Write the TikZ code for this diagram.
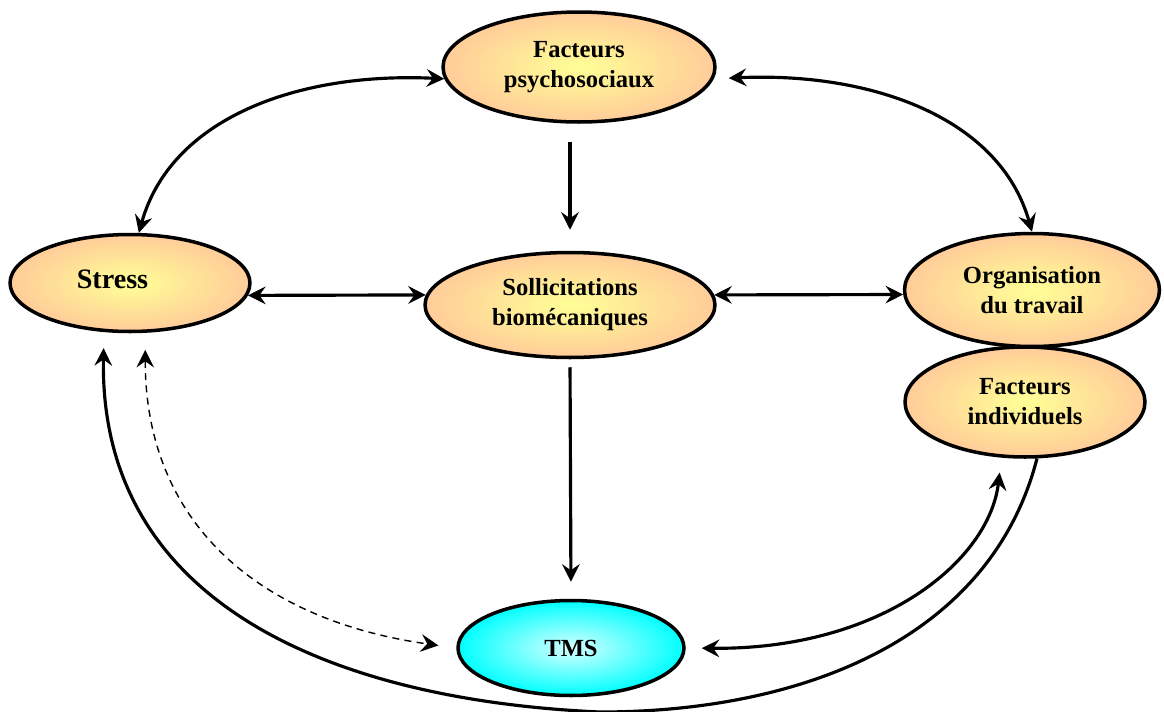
\documentclass[tikz,border=0pt]{standalone}
\usepackage{fontspec}
\setmainfont{Liberation Serif}
\usetikzlibrary{shapes.geometric,arrows.meta}

\definecolor{peach}{RGB}{255,204,153}
\definecolor{lemon}{RGB}{255,255,150}
\definecolor{aqua}{RGB}{0,255,255}
\definecolor{paleaqua}{RGB}{215,255,255}

\begin{document}
\begin{tikzpicture}[
   x=0.02cm,y=-0.02cm,
   every node/.style={font=\bfseries\fontsize{14}{17}\selectfont},
   factor/.style={ellipse,draw=black,line width=2pt,inner sep=0pt,align=center,
     shade,inner color=lemon,outer color=peach},
   outcome/.style={factor,inner color=paleaqua,outer color=aqua},
   link/.style={line width=1.8pt,>={Stealth[length=10pt,width=10pt,inset=3.5pt]}},
   hint/.style={link,line width=.8pt,dashed,dash pattern=on 4pt off 3pt}
 ]
  \useasboundingbox (0,0) rectangle (1164,711);

  % The six factors, placed at their spots on the page.
  \node[factor,minimum width=5.44cm,minimum height=2.2cm] (psy) at (579,67)
    {Facteurs\\psychosociaux};
  \node[factor,minimum width=4.8cm,minimum height=1.94cm] (stress) at (130,283)
    {\raisebox{.14cm}{\fontsize{16}{19}\selectfont Stress}\hspace*{.7cm}};
  \node[factor,minimum width=5.8cm,minimum height=2.1cm] (soll) at (570,305)
    {Sollicitations\\biomécaniques};
  \node[factor,minimum width=5.1cm,minimum height=2.26cm] (org) at (1032,290)
    {Organisation\\du travail};
  \node[factor,minimum width=4.8cm,minimum height=2.2cm] (indiv) at (1025,402)
    {Facteurs\\individuels};
  \node[outcome,minimum width=4.52cm,minimum height=1.9cm] (tms) at (571,648)
    {TMS};
  \coordinate (low) at (600,712);

  % Straight links through the middle.
  \draw[link,->,shorten <=.36cm,shorten >=.42cm] (psy.south -| soll.north) -- (soll.north);
  \draw[link,->,shorten <=.16cm,shorten >=.34cm] (soll.south) -- (tms.north);
  \draw[link,<->] (stress.-6) -- (soll.176);
  \draw[link,<->] (soll.4) -- (org.182);

  % Arcs over the top.
  \draw[link,<->] (stress.80) .. controls +(32,-115) and +(-146,-7) .. (psy.185);
  \draw[link,<->,shorten <=.3cm] (psy.-5) .. controls +(158,-7) and +(-32,-114) .. (org.north);

  % Links round the bottom.
  \draw[link,<->,shorten <=.32cm,shorten >=.3cm]
    (tms.east) .. controls +(196,2) and +(-12,103) .. (indiv.247);
  \draw[link,->,shorten >=.32cm]
    (indiv.-78) .. controls +(-47,182) and +(200,0) .. (low)
    .. controls +(-270,-12) and +(-5,270) .. (stress.242);
  \draw[hint,<->,shorten <=.34cm,shorten >=.36cm]
    (stress.-73) .. controls +(0,190) and +(-198,-28) .. (tms.west);
\end{tikzpicture}
\end{document}
